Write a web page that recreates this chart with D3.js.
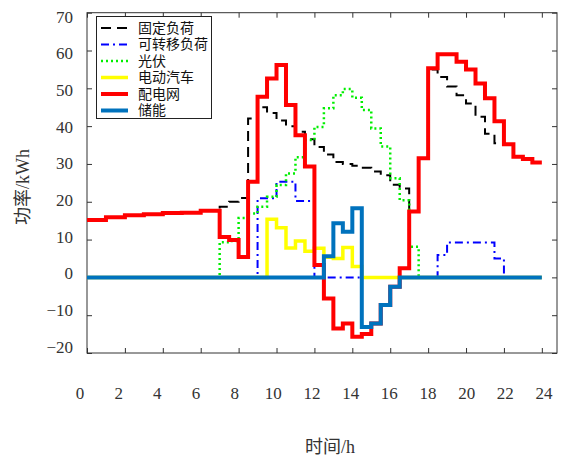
<!DOCTYPE html>
<html>
<head>
<meta charset="utf-8">
<script src="https://d3js.org/d3.v7.min.js"></script>
<style>
  body { margin: 0; background: #fff; }
  text { font-family: "Liberation Serif", "Noto Sans CJK SC", serif; fill: #333; }
</style>
</head>
<body>
<div id="chart"></div>
<script>
// half-hour steps, 48 values per series (t = 0, 0.5, ... 23.5)
const fixedLoad = [15.2,15.2,15.9,15.9,16.4,16.4,16.7,16.7,17.0,17.0,17.1,17.1,17.6,17.6,
  18.7,20.0,21.0,42.0,45.0,43.5,41.5,40.0,38.5,36.5,34.5,32.5,30.5,30.0,29.5,29.0,28.0,27.0,
  24.5,23.5,17.4,31.5,55.0,53.0,50.5,48.2,46.0,42.5,38.0,35.5,35.2,31.9,31.3,30.4];
const shiftLoad = [0,0,0,0,0,0,0,0,0,0,0,0,0,0,0,0,0,0,20.9,20.9,25.3,25.3,20.2,20.2,
  0,0,0,0,0,0,0,0,0,0,0,0,0,5.9,9.2,9.2,9.2,9.2,9.2,5.0,0,0,0,0];
const pv = [0,0,0,0,0,0,0,0,0,0,0,0,0,0,9.3,9.6,15.7,16.9,18.7,21.3,24.4,27.5,31.8,36.3,
  39.8,44.7,48.2,49.8,47.5,44.3,39.4,34.6,26.2,20.4,8.1,0,0,0,0,0,0,0,0,0,0,0,0,0];
const ev = [0,0,0,0,0,0,0,0,0,0,0,0,0,0,0,0,0,0,0,15.4,13.1,7.8,9.6,6.9,7.7,5.3,5.0,7.9,
  2.9,0,0,0,0,0,0,0,0,0,0,0,0,0,0,0,0,0,0,0];
const grid = [15.2,15.2,15.9,15.9,16.4,16.4,16.7,16.7,17.0,17.0,17.1,17.1,17.6,17.6,
  10.7,9.9,5.4,25.3,47.8,52.6,56.2,45.6,37.6,29.3,3.3,-5.6,-13.5,-12.2,-15.7,-15.0,-12.2,-7.3,
  -2.5,2.4,17.4,31.5,55.3,59.0,59.0,57.0,55.0,51.3,47.4,41.3,35.2,31.9,31.3,30.4];
const storage = [0,0,0,0,0,0,0,0,0,0,0,0,0,0,0,0,0,0,0,0,0,0,0,0,0,5.6,14.3,12.1,18.3,
  -13.1,-12.2,-7.3,-2.5,0,0,0,0,0,0,0,0,0,0,0,0,0,0,0];

const seriesNames = ["固定负荷", "可转移负荷", "光伏", "电动汽车", "配电网", "储能"];
const xTicks = [0,2,4,6,8,10,12,14,16,18,20,22,24];
const yTicks = [-20,-10,0,10,20,30,40,50,60,70];

const width = 563, height = 457;
const svg = d3.select("#chart").append("svg")
  .attr("width", width).attr("height", height);

const x = d3.scaleLinear().domain([0, 24.8]).range([87, 557]);
const y = d3.scaleLinear().domain([-20, 70]).range([353, 12.7]);
// tick labels sit a bit apart from the ticks in the original
const xLab = d3.scaleLinear().domain([0, 24]).range([80, 544]);
const yLab = d3.scaleLinear().domain([-20, 70]).range([347, 17]);

// ticks (inward) on all four sides
const tk = 5;
svg.append("g").attr("transform", `translate(0,${y(-20)})`)
  .call(d3.axisBottom(x).tickValues(xTicks).tickSize(-tk).tickFormat(""));
svg.append("g").attr("transform", `translate(0,${y(70)})`)
  .call(d3.axisTop(x).tickValues(xTicks).tickSize(-tk).tickFormat(""));
svg.append("g").attr("transform", `translate(${x(0)},0)`)
  .call(d3.axisLeft(y).tickValues(yTicks).tickSize(-tk).tickFormat(""));
svg.append("g").attr("transform", `translate(${x(24.8)},0)`)
  .call(d3.axisRight(y).tickValues(yTicks).tickSize(-tk).tickFormat(""));
svg.selectAll(".domain").remove();
svg.selectAll(".tick line").attr("stroke", "#333");

svg.append("rect")
  .attr("x", x(0)).attr("y", y(70))
  .attr("width", x(24.8) - x(0)).attr("height", y(-20) - y(70))
  .attr("fill", "none").attr("stroke", "#333").attr("stroke-width", 1);

// tick labels
svg.selectAll(".xl").data(xTicks).join("text")
  .attr("x", d => xLab(d)).attr("y", 393)
  .attr("text-anchor", "middle").attr("dominant-baseline", "central")
  .attr("font-size", 17).text(d => d);
svg.selectAll(".yl").data(yTicks).join("text")
  .attr("x", 73).attr("y", d => yLab(d))
  .attr("text-anchor", "end").attr("dominant-baseline", "central")
  .attr("font-size", 17).text(d => d < 0 ? "\u2212" + Math.abs(d) : d);

// axis titles
svg.append("text").attr("x", 330).attr("y", 447)
  .attr("text-anchor", "middle").attr("dominant-baseline", "central")
  .attr("font-size", 18).text("时间/h");
svg.append("text")
  .attr("transform", "translate(23,187) rotate(-90)")
  .attr("text-anchor", "middle").attr("dominant-baseline", "central")
  .attr("font-size", 18).text("功率/kWh");

// series
const styles = [
  {data: fixedLoad, color: "#000000", w: 2, dash: "10,6"},
  {data: shiftLoad, color: "#0000ff", w: 2, dash: "8,4,2,4"},
  {data: pv, color: "#00ee00", w: 2.5, dash: "2,3"},
  {data: ev, color: "#ffff00", w: 3.5, dash: null},
  {data: grid, color: "#ff0000", w: 4, dash: null},
  {data: storage, color: "#0072bd", w: 4, dash: null}
];

const line = d3.line()
  .x(d => x(d[0])).y(d => y(d[1]))
  .curve(d3.curveStepAfter);

styles.forEach(s => {
  const pts = s.data.map((v, i) => [i * 0.5, v]);
  pts.push([24, s.data[s.data.length - 1]]);
  svg.append("path").datum(pts)
    .attr("d", line)
    .attr("fill", "none")
    .attr("stroke", s.color)
    .attr("stroke-width", s.w)
    .attr("stroke-dasharray", s.dash);
});

// legend
const lg = svg.append("g");
lg.append("rect")
  .attr("x", 96.5).attr("y", 16.5).attr("width", 115).attr("height", 102)
  .attr("fill", "#fff").attr("stroke", "#222").attr("stroke-width", 1);
styles.forEach((s, i) => {
  const yy = 28 + i * 16.5;
  lg.append("line")
    .attr("x1", 101).attr("x2", 128).attr("y1", yy).attr("y2", yy)
    .attr("stroke", s.color).attr("stroke-width", s.w)
    .attr("stroke-dasharray", s.dash);
  lg.append("text")
    .attr("x", 138).attr("y", yy)
    .attr("dominant-baseline", "central")
    .attr("font-size", 14).style("fill", "#111")
    .text(seriesNames[i]);
});
</script>
</body>
</html>
